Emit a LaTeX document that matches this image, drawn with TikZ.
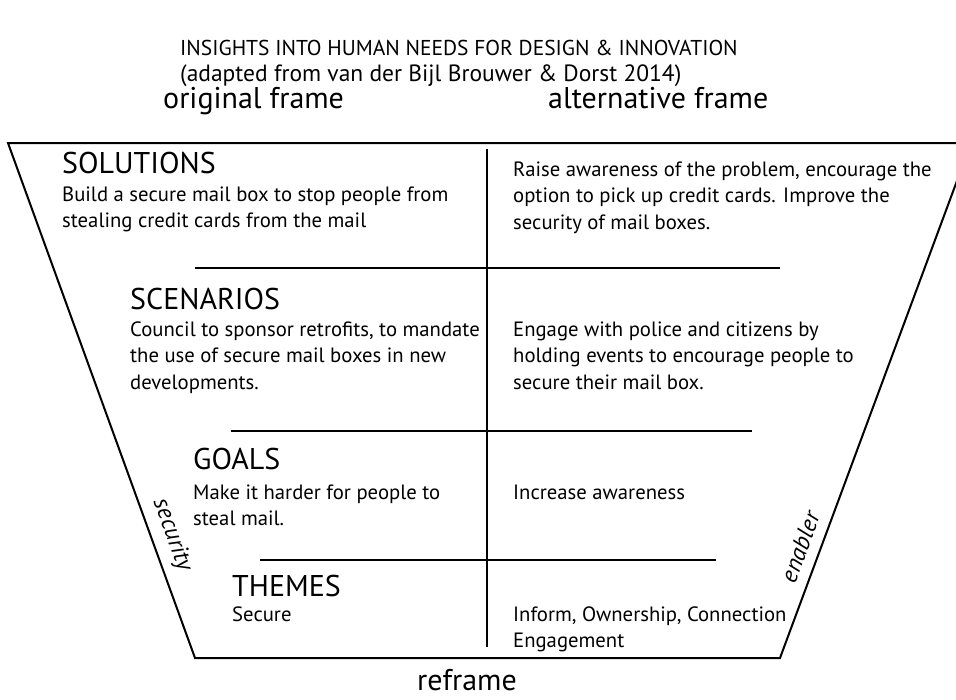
\documentclass[tikz,border=0pt]{standalone}
\usepackage{fontspec}
\setmainfont{PT Sans}
\begin{document}
\begin{tikzpicture}[x=1pt,y=-1pt,
  frameline/.style={line width=2pt, line join=miter},
  divline/.style={line width=1.2pt},
  txt/.style={anchor=base west, inner sep=0pt, align=left, font=\fontsize{20.7}{26.5}\selectfont},
  head/.style={anchor=base west, inner sep=0pt, font=\fontsize{30}{34}\selectfont},
  ttl/.style={anchor=base west, inner sep=0pt},
  side/.style={inner sep=0pt, font=\itshape\fontsize{24}{28}\selectfont}]
\useasboundingbox (0,0) rectangle (956,699);
\clip (0,0) rectangle (956,699);
% frame
\coordinate (tl) at (8,143);
\coordinate (tr) at (971,143);
\coordinate (br) at (780,658);
\coordinate (bl) at (195,658);
\draw[frameline] (tl) -- (tr) -- (br) -- (bl) -- cycle;
% centre line and dividers
\coordinate (ct) at (487,149);
\coordinate (cb) at (487,647);
\draw[divline] (ct) -- (cb);
\coordinate (d1l) at (195,268); \coordinate (d1r) at (780,268);
\coordinate (d2l) at (231,431); \coordinate (d2r) at (752,431);
\coordinate (d3l) at (260,560); \coordinate (d3r) at (716,560);
\draw[divline] (d1l) -- (d1r);
\draw[divline] (d2l) -- (d2r);
\draw[divline] (d3l) -- (d3r);
% titles
\node[ttl, font=\fontsize{21.5}{26}\selectfont] (t1) at (180,55) {INSIGHTS INTO HUMAN NEEDS FOR DESIGN \& INNOVATION};
\node[ttl, font=\fontsize{23.5}{26}\selectfont] (t2) at (180,81) {(adapted from van der Bijl Brouwer \& Dorst 2014)};
\node[head] (of) at (163,108) {original frame};
\node[head] (af) at (548,108) {alternative frame};
\node[head, anchor=base] (rf) at (467,690) {reframe};
% solutions
\node[head] (sol) at (62,173) {SOLUTIONS};
\node[txt] (solL) at (62,227.5) {Build a secure mail box to stop people from\\stealing credit cards from the mail};
\node[txt] (solR) at (513,229) {Raise awareness of the problem, encourage the\\option to pick up credit cards. Improve the\\security of mail boxes.};
% scenarios
\node[head] (sce) at (130,309) {SCENARIOS};
\node[txt] (sceL) at (130,389) {Council to sponsor retrofits, to mandate\\the use of secure mail boxes in new\\developments.};
\node[txt] (sceR) at (513,389) {Engage with police and citizens by\\holding events to encourage people to\\secure their mail box.};
% goals
\node[head] (goa) at (193,469) {GOALS};
\node[txt] (goaL) at (193,525.5) {Make it harder for people to\\steal mail.};
\node[txt] (goaR) at (513,499) {Increase awareness};
% themes
\node[head] (the) at (232,596) {THEMES};
\node[txt] (theL) at (232,621) {Secure};
\node[txt] (theR) at (513,647.5) {Inform, Ownership, Connection\\Engagement};
% side labels
\node[side, rotate=-70] (sec) at (172,535) {security};
\node[side, rotate=70] (ena) at (800,547) {enabler};
\end{tikzpicture}
\end{document}
